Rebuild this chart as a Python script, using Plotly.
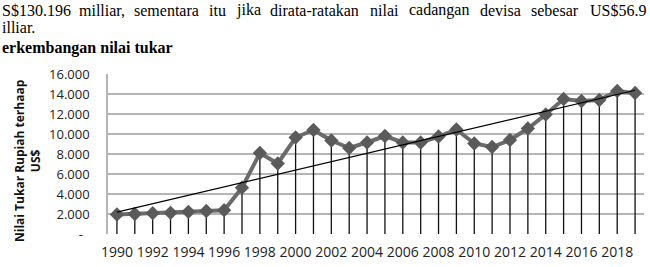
import numpy as np
import plotly.graph_objects as go

# ---- data ----
years = list(range(1990, 2020))
kurs = [1950, 2000, 2080, 2120, 2220, 2300, 2380, 4630, 8100, 7050,
        9650, 10400, 9350, 8600, 9150, 9800, 9150, 9150, 9750, 10450,
        9050, 8700, 9400, 10550, 11950, 13500, 13300, 13400, 14300, 14100]
ytick_vals = [0, 2000, 4000, 6000, 8000, 10000, 12000, 14000, 16000]
ytick_text = ["-\u00a0\u00a0", "2.000", "4.000", "6.000", "8.000", "10.000", "12.000", "14.000", "16.000"]
xtick_vals = list(range(1990, 2019, 2))
y_title = "Nilai Tukar Rupiah terhaap<br>US$"

line1_words = ["S$130.196", "milliar,", "sementara", "itu", "jika", "dirata-ratakan",
               "nilai", "cadangan", "devisa", "sebesar", "US$56.9"]
line1_x = [0, 77, 132, 207, 234, 268, 368, 407, 478, 529, 588]
line2 = "illiar."
heading = "erkembangan nilai tukar"

# linear trendline (Excel-style) from the data
coef = np.polyfit(np.array(years, dtype=float), np.array(kurs, dtype=float), 1)
trend_x = [years[0], years[-1]]
trend_y = list(np.polyval(coef, trend_x))

L, R, T, B = 108, 6, 74, 33
W, H = 650, 267
pw = W - L - R
ph = H - T - B

fig = go.Figure()

# drop lines + series
fig.add_trace(go.Scatter(
    x=years, y=kurs, mode="lines+markers",
    line=dict(color="#6b6b6b", width=4),
    marker=dict(symbol="diamond", size=11, color="#5a5a5a"),
    error_y=dict(type="data", symmetric=False, array=[0] * len(kurs),
                 arrayminus=kurs, width=0, thickness=1.3, color="#111111"),
    showlegend=False, hoverinfo="skip"))

fig.add_trace(go.Scatter(
    x=trend_x, y=trend_y, mode="lines",
    line=dict(color="#000000", width=1.2),
    showlegend=False, hoverinfo="skip"))

fig.update_xaxes(
    range=[1989.5, 2019.5], tickmode="array", tickvals=xtick_vals,
    ticktext=[str(v) for v in xtick_vals],
    showgrid=False, zeroline=False, showline=False,
    ticks="", ticklabelstandoff=8,
    tickfont=dict(family="Open Sans", size=14, color="#222222"))

fig.update_yaxes(
    range=[0, 16000], tickmode="array", tickvals=ytick_vals, ticktext=ytick_text,
    showgrid=True, gridcolor="#b5b5b5", gridwidth=1.5, zeroline=False,
    showline=True, linecolor="#b5b5b5", linewidth=1.5,
    ticks="", ticklabelstandoff=14,
    tickfont=dict(family="Open Sans", size=13, color="#222222"))

def px(x):
    return (x - L) / pw

def py(y):
    return (H - B - y) / ph

annotations = []
for w, x in zip(line1_words, line1_x):
    annotations.append(dict(text=w, x=px(x), y=py(10), xref="paper", yref="paper",
                            xanchor="left", yanchor="middle", showarrow=False,
                            font=dict(family="Liberation Serif", size=16, color="#000000")))
annotations.append(dict(text=line2, x=px(0), y=py(28), xref="paper", yref="paper",
                        xanchor="left", yanchor="middle", showarrow=False,
                        font=dict(family="Liberation Serif", size=16, color="#000000")))
annotations.append(dict(text="<b>" + heading + "</b>", x=px(0), y=py(48), xref="paper", yref="paper",
                        xanchor="left", yanchor="middle", showarrow=False,
                        font=dict(family="Liberation Serif", size=16, color="#000000")))
annotations.append(dict(text="<b>" + y_title + "</b>", x=px(27.5), y=py(160.5),
                        xref="paper", yref="paper", textangle=-90,
                        xanchor="center", yanchor="middle", showarrow=False,
                        font=dict(family="Open Sans", size=12, color="#111111")))

fig.update_layout(
    width=W, height=H, margin=dict(l=L, r=R, t=T, b=B),
    paper_bgcolor="white", plot_bgcolor="white",
    annotations=annotations)

fig.write_html("out.html")
